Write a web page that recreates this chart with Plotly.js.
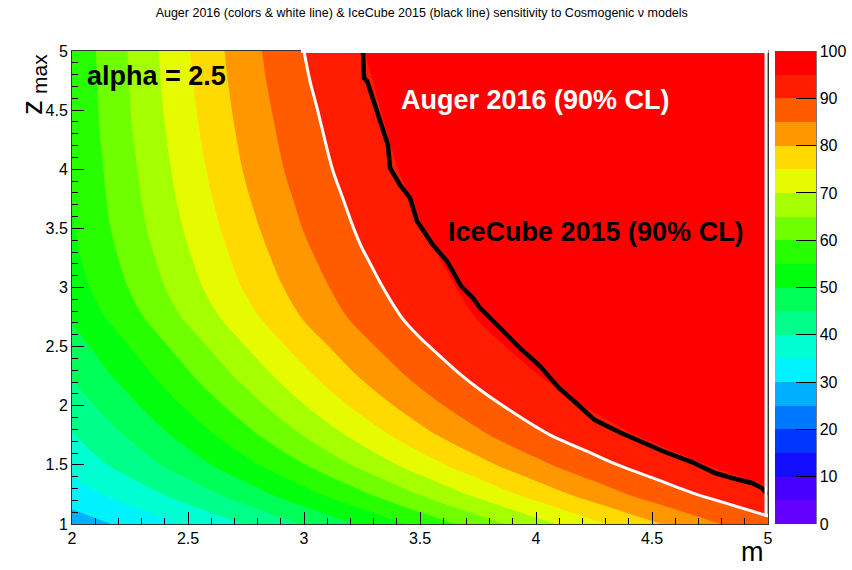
<!DOCTYPE html>
<html><head><meta charset="utf-8">
<script src="https://cdn.plot.ly/plotly-3.0.1.min.js"></script>
<style>html,body{margin:0;padding:0;background:#fff;} #chart{width:852px;height:570px;}</style>
</head><body><div id="chart"></div>
<script>
// m values (columns) and z_max values (rows)
const mValues = [2, 2.25, 2.5, 2.75, 3, 3.25, 3.5, 3.75, 4, 4.25, 4.5, 4.75, 5];
const zmaxValues = [1, 1.25, 1.5, 1.75, 2, 2.25, 2.5, 2.75, 3, 3.25, 3.5, 3.75, 4, 4.25, 4.5, 4.75, 5];
// Auger 2016 sensitivity (% CL), one row per z_max
const sensZ1p00 = [27.4, 31.3, 35.6, 40.3, 45.4, 50.8, 56.5, 62.3, 68.1, 73.9, 79.2, 84.2, 88.5];
const sensZ1p25 = [32.6, 37.2, 42.1, 47.5, 53.2, 59.1, 65.2, 71.1, 76.9, 82.2, 87.0, 90.9, 94.0];
const sensZ1p50 = [36.8, 42.0, 47.6, 53.6, 59.8, 66.2, 72.4, 78.3, 83.7, 88.4, 92.3, 95.2, 97.3];
const sensZ1p75 = [39.7, 45.6, 51.9, 58.5, 65.2, 71.9, 78.3, 84.0, 89.0, 92.9, 95.8, 97.8, 99.0];
const sensZ2p00 = [42.5, 48.9, 55.7, 62.7, 69.8, 76.6, 82.8, 88.1, 92.5, 95.6, 97.8, 99.0, 99.6];
const sensZ2p25 = [45.3, 52.1, 59.3, 66.6, 73.8, 80.5, 86.4, 91.3, 94.8, 97.4, 98.9, 99.5, 99.9];
const sensZ2p50 = [47.8, 55.0, 62.5, 70.0, 77.2, 83.7, 89.3, 93.5, 96.6, 98.4, 99.4, 99.8, 99.9];
const sensZ2p75 = [50.7, 58.2, 65.9, 73.4, 80.4, 86.6, 91.6, 95.2, 97.7, 99.0, 99.7, 99.9, 99.9];
const sensZ3p00 = [52.7, 60.3, 68.1, 75.6, 82.4, 88.3, 93.0, 96.2, 98.3, 99.3, 99.8, 99.9, 99.9];
const sensZ3p25 = [53.8, 61.6, 69.5, 77.1, 83.9, 89.6, 94.0, 97.0, 98.7, 99.5, 99.9, 99.9, 99.9];
const sensZ3p50 = [54.6, 62.7, 70.7, 78.4, 85.2, 90.8, 94.8, 97.6, 99.0, 99.7, 99.9, 99.9, 99.9];
const sensZ3p75 = [55.1, 63.4, 71.7, 79.5, 86.3, 91.8, 95.6, 98.1, 99.3, 99.8, 99.9, 99.9, 99.9];
const sensZ4p00 = [55.4, 63.9, 72.5, 80.5, 87.4, 92.7, 96.4, 98.5, 99.5, 99.9, 99.9, 99.9, 99.9];
const sensZ4p25 = [55.7, 64.5, 73.2, 81.3, 88.1, 93.4, 96.8, 98.8, 99.6, 99.9, 99.9, 99.9, 99.9];
const sensZ4p50 = [55.9, 64.9, 73.8, 82.0, 88.8, 93.9, 97.3, 99.0, 99.7, 99.9, 99.9, 99.9, 99.9];
const sensZ4p75 = [56.1, 65.2, 74.3, 82.6, 89.5, 94.4, 97.6, 99.2, 99.8, 99.9, 99.9, 99.9, 99.9];
const sensZ5p00 = [56.2, 65.4, 74.7, 83.1, 90.0, 94.9, 97.8, 99.3, 99.8, 99.9, 99.9, 99.9, 99.9];
const augerSensitivity = [sensZ1p00, sensZ1p25, sensZ1p50, sensZ1p75, sensZ2p00, sensZ2p25, sensZ2p50,
                          sensZ2p75, sensZ3p00, sensZ3p25, sensZ3p50, sensZ3p75, sensZ4p00, sensZ4p25,
                          sensZ4p50, sensZ4p75, sensZ5p00];
// IceCube 2015 90% CL line
const icecubeM = [3.254, 3.259, 3.272, 3.328, 3.362, 3.371, 3.414, 3.457, 3.487, 3.556, 3.616, 3.677, 3.728, 3.759, 3.845, 3.931, 4.017, 4.099, 4.168, 4.254, 4.358, 4.457, 4.556, 4.672, 4.772, 4.845, 4.931, 4.974, 5.0];
const icecubeZmax = [5.0, 4.77, 4.746, 4.408, 4.205, 4.011, 3.867, 3.757, 3.562, 3.359, 3.224, 3.013, 2.911, 2.827, 2.657, 2.488, 2.336, 2.150, 2.032, 1.879, 1.778, 1.693, 1.609, 1.524, 1.431, 1.389, 1.347, 1.304, 1.245];
const augerCL = 90;
const colorbarTicks = [0, 10, 20, 30, 40, 50, 60, 70, 80, 90, 100];
const bandColors = ['#6300ff','#3300ff','#0014ff','#0044ff','#008bff','#00bbff','#00fffc','#00ffcc','#00ff85','#00ff55',
                    '#00ff0e','#22ff00','#69ff00','#99ff00','#e0ff00','#ffee00','#ffa700','#ff7700','#ff3000','#ff0000'];

// colorscale: band k (5k..5k+5) is sampled at (k+1)/21 by the contour fill
const nb = bandColors.length;
const colorscale = [[0, bandColors[0]]];
bandColors.forEach((c, k) => colorscale.push([(k + 1) / (nb + 1), c]));
colorscale.push([1, bandColors[nb - 1]]);

const FONT = 'Liberation Sans, Arial, Helvetica, sans-serif';
const L = 72, R = 768, T = 51, B = 524;
const px = x => (x - L) / (R - L);
const py = y => (B - y) / (B - T);

const traces = [
  {
    type: 'contour', x: mValues, y: zmaxValues, z: augerSensitivity,
    zmin: 0, zmax: 100, autocontour: false,
    contours: {start: 0, end: 100, size: 5, coloring: 'fill', showlines: false},
    line: {width: 0, smoothing: 1},
    colorscale: colorscale, hoverinfo: 'skip',
    colorbar: {
      x: px(775), xanchor: 'left', xpad: 0, ypad: 0, y: 0.5, yanchor: 'middle',
      len: 1, thickness: 41, thicknessmode: 'pixels',
      outlinewidth: 0,
      tickmode: 'array', tickvals: colorbarTicks, ticks: 'inside', ticklen: 20, tickcolor: '#000',
      tickfont: {family: FONT, size: 16, color: '#000'}
    }
  },
  {
    type: 'contour', x: mValues, y: zmaxValues, z: augerSensitivity,
    autocontour: false, showscale: false, hoverinfo: 'skip',
    contours: {start: augerCL, end: augerCL, size: 5, coloring: 'none'},
    line: {color: '#ffffff', width: 3, smoothing: 1}
  },
  {
    type: 'scatter', mode: 'lines', x: icecubeM, y: icecubeZmax,
    line: {color: '#000', width: 4.5}, hoverinfo: 'skip', showlegend: false
  }
];

const axisBase = {
  showgrid: false, zeroline: false, showline: true, mirror: true, linecolor: '#333', linewidth: 1,
  ticks: 'inside', ticklen: 12, tickwidth: 1, tickcolor: '#000',
  tickfont: {family: FONT, size: 16, color: '#000'},
  minor: {dtick: 0.1, ticks: 'inside', ticklen: 6, tickcolor: '#000', tickwidth: 1}
};

const layout = {
  width: 852, height: 570,
  margin: {l: L, r: 852 - R, t: T, b: 570 - B, autoexpand: false},
  paper_bgcolor: '#fff', plot_bgcolor: '#fff',
  showlegend: false,
  title: {text: 'Auger 2016 (colors & white line) & IceCube 2015 (black line) sensitivity to Cosmogenic ν models',
          x: 0.495, xref: 'container', y: 1 - 13 / 570, yref: 'container', yanchor: 'middle', xanchor: 'center',
          font: {family: FONT, size: 12.5, color: '#000'}},
  xaxis: Object.assign({}, axisBase, {range: [2, 5], tick0: 2, dtick: 0.5}),
  yaxis: Object.assign({}, axisBase, {range: [1, 5], tick0: 1, dtick: 0.5}),
  shapes: [
    // white gap above the red region (no frame drawn there in the reference)
    {type: 'rect', xref: 'paper', yref: 'paper', x0: px(301), x1: px(768.5), y0: py(53), y1: py(47),
     fillcolor: '#fff', line: {width: 0}, layer: 'above'},
    // white strip between the fill and the right frame
    {type: 'rect', xref: 'paper', yref: 'paper', x0: px(764.5), x1: px(767.5), y0: py(517), y1: py(51),
     fillcolor: '#fff', line: {width: 0}, layer: 'above'},
    // palette axis line
    {type: 'line', xref: 'paper', yref: 'paper', x0: px(816), x1: px(816), y0: 0, y1: 1,
     line: {color: '#000', width: 1}}
  ],
  annotations: [
    {text: '<b>alpha = 2.5</b>', xref: 'paper', yref: 'paper', x: px(156), y: py(76), xanchor: 'center', yanchor: 'middle',
     showarrow: false, font: {family: FONT, size: 27, color: '#000'}},
    {text: '<b>Auger 2016 (90% CL)</b>', xref: 'paper', yref: 'paper', x: px(535), y: py(100), xanchor: 'center', yanchor: 'middle',
     showarrow: false, font: {family: FONT, size: 27, color: '#fff'}},
    {text: '<b>IceCube 2015 (90% CL)</b>', xref: 'paper', yref: 'paper', x: px(596), y: py(232), xanchor: 'center', yanchor: 'middle',
     showarrow: false, font: {family: FONT, size: 27, color: '#000'}},
    {text: 'm', xref: 'paper', yref: 'paper', x: px(752), y: py(569), xanchor: 'center', yanchor: 'bottom',
     showarrow: false, font: {family: FONT, size: 27, color: '#000'}},
    {text: 'z', xref: 'paper', yref: 'paper', x: px(31), y: py(108), xanchor: 'center', yanchor: 'middle', textangle: -90,
     showarrow: false, font: {family: FONT, size: 30, color: '#000'}},
    {text: 'max', xref: 'paper', yref: 'paper', x: px(39), y: py(74), xanchor: 'center', yanchor: 'middle', textangle: -90,
     showarrow: false, font: {family: FONT, size: 21, color: '#000'}}
  ]
};

Plotly.newPlot('chart', traces, layout, {staticPlot: true, displayModeBar: false});
</script>
</body></html>
